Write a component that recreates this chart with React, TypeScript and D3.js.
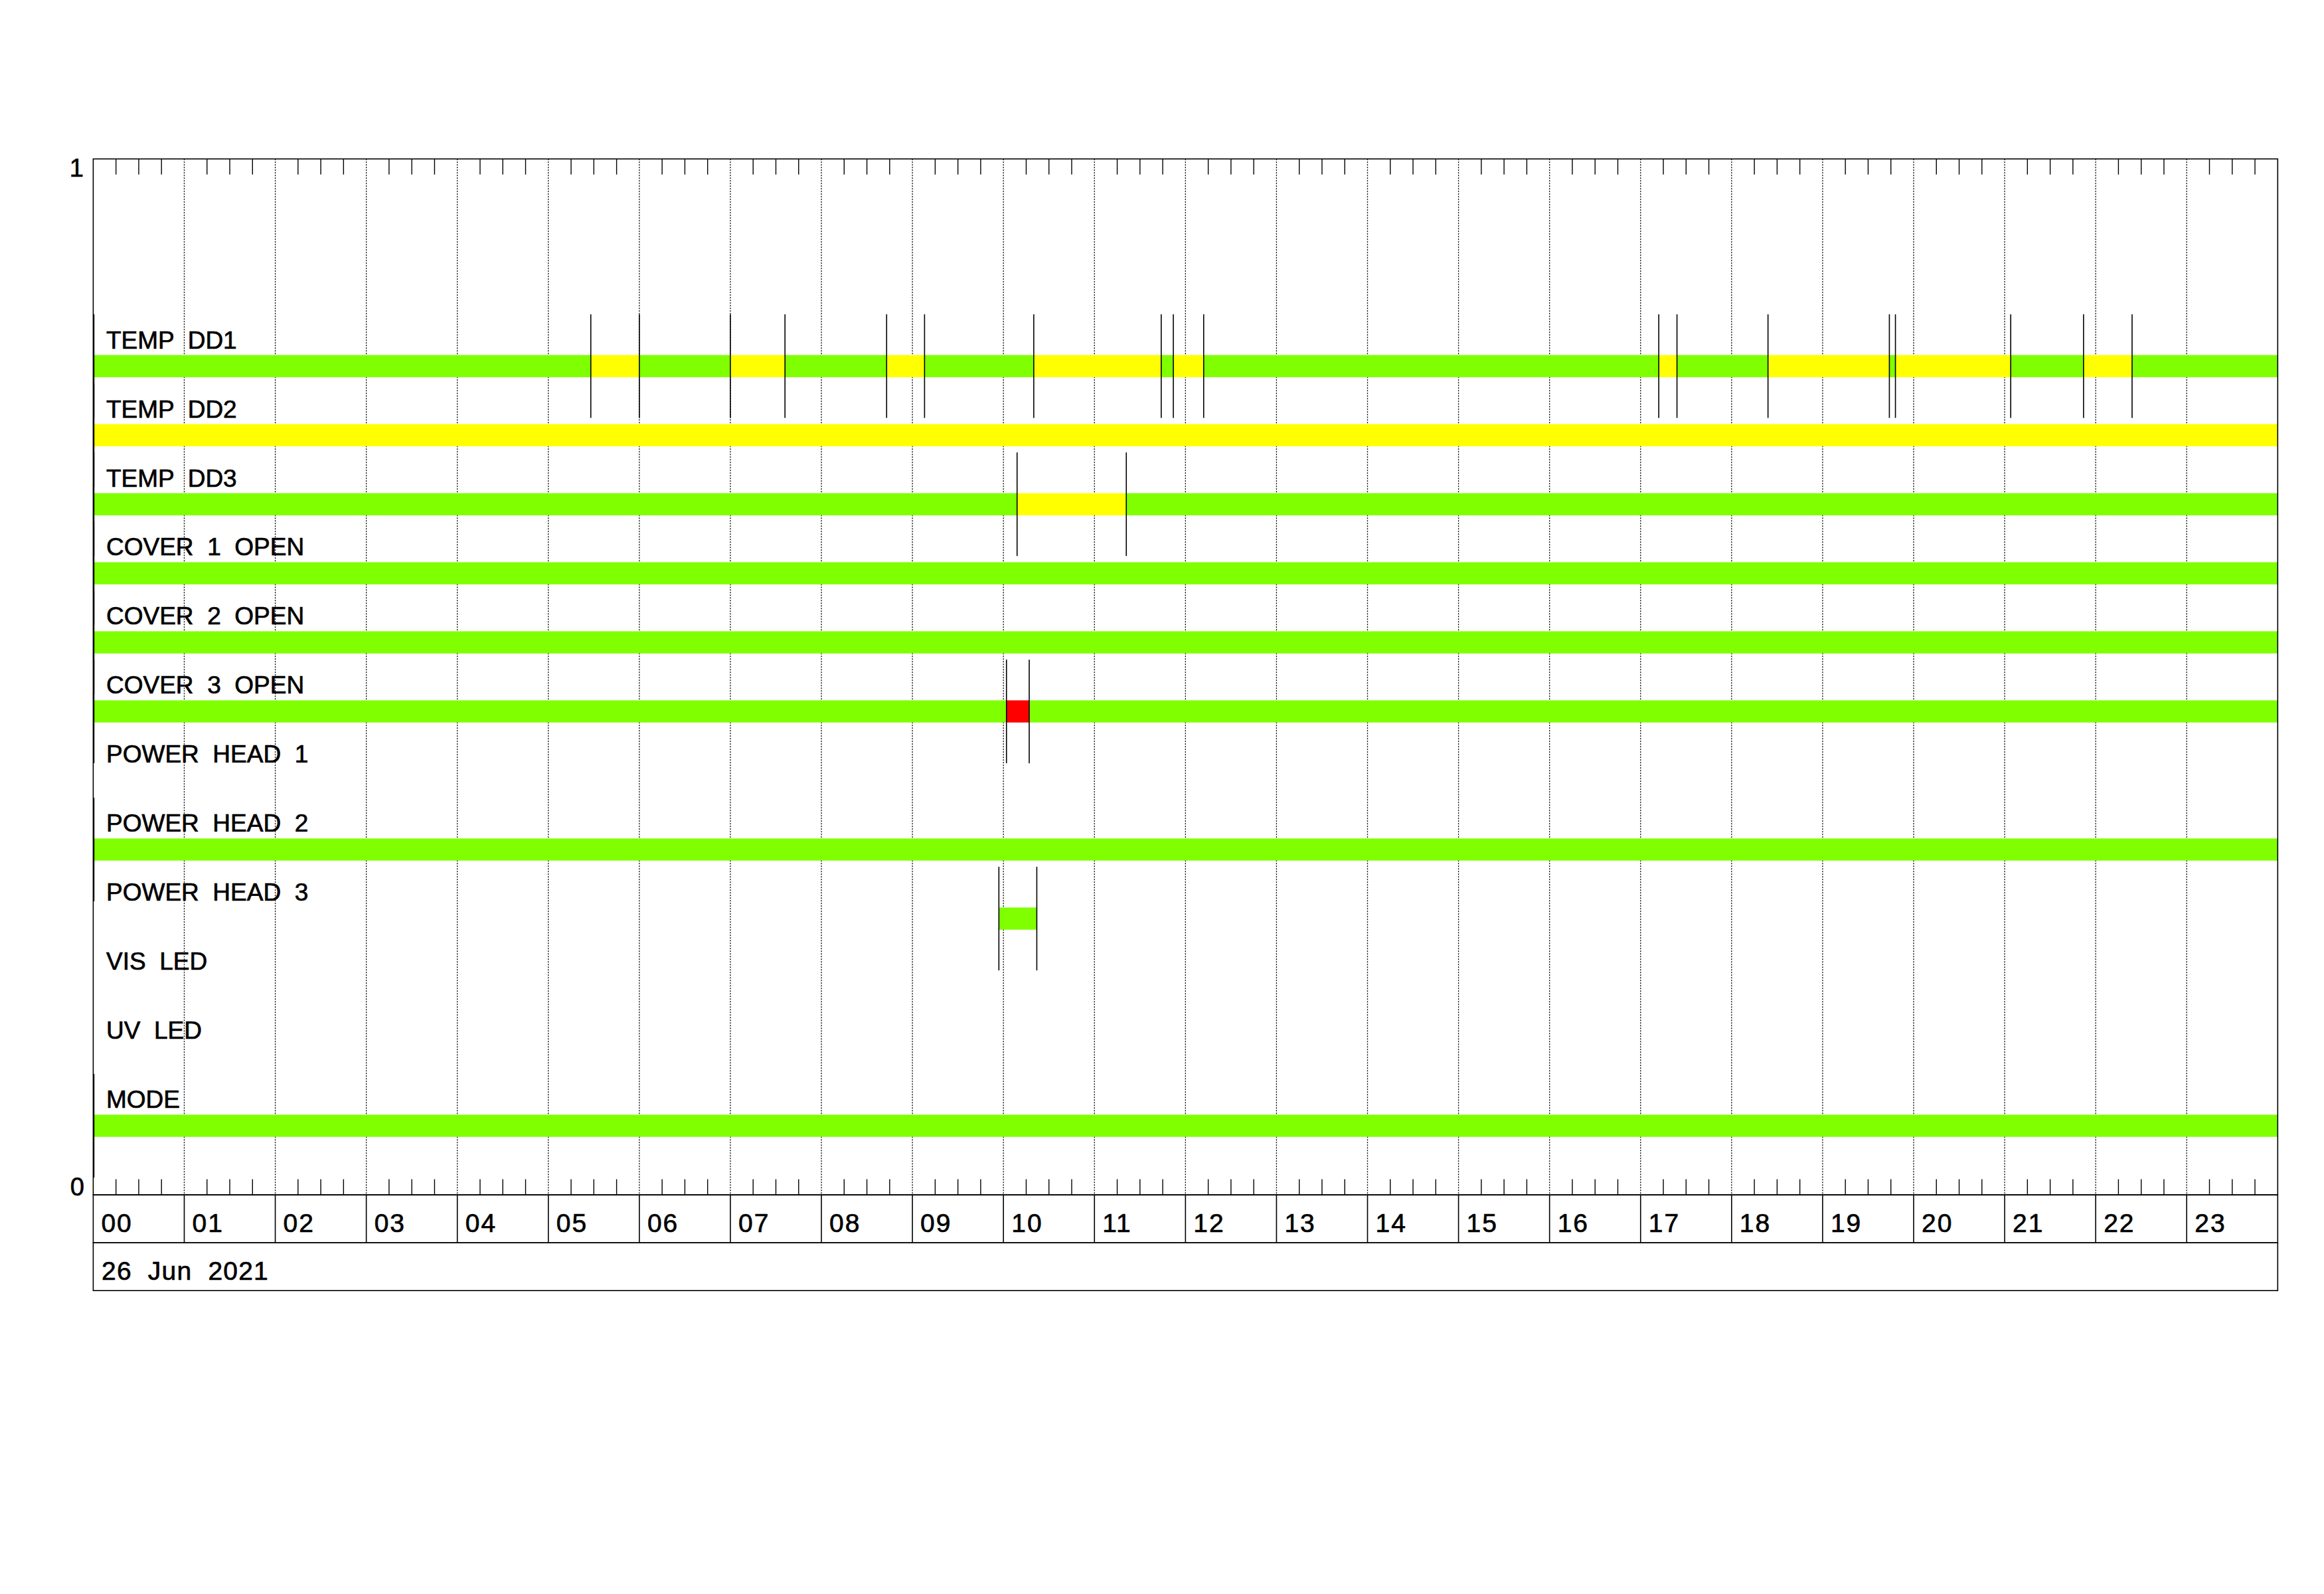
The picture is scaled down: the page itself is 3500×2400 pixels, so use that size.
import React from 'react';
import * as d3 from 'd3';

// ---------- data ----------
const dateLabel = '26 Jun 2021';
const hourLabels = ['00','01','02','03','04','05','06','07','08','09','10','11','12','13','14','15','16','17','18','19','20','21','22','23'];
const rowLabels = [
  'TEMP  DD1', 'TEMP  DD2', 'TEMP  DD3',
  'COVER  1  OPEN', 'COVER  2  OPEN', 'COVER  3  OPEN',
  'POWER  HEAD  1', 'POWER  HEAD  2', 'POWER  HEAD  3',
  'VIS  LED', 'UV  LED', 'MODE',
];
// segments: [start, end, state]  G = ok (green), Y = warning (yellow), R = alarm (red)
const tempDD1 = [
  ['00:00','05:28','G'],['05:28','06:00','Y'],['06:00','07:00','G'],['07:00','07:36','Y'],
  ['07:36','08:43','G'],['08:43','09:08','Y'],['09:08','10:20','G'],['10:20','11:44','Y'],
  ['11:44','11:52','G'],['11:52','12:12','Y'],['12:12','17:12','G'],['17:12','17:24','Y'],
  ['17:24','18:24','G'],['18:24','19:44','Y'],['19:44','19:48','G'],['19:48','21:04','Y'],
  ['21:04','21:52','G'],['21:52','22:24','Y'],['22:24','24:00','G'],
];
const tempDD2 = [['00:00','24:00','Y']];
const tempDD3 = [['00:00','10:09','G'],['10:09','11:21','Y'],['11:21','24:00','G']];
const cover1 = [['00:00','24:00','G']];
const cover2 = [['00:00','24:00','G']];
const cover3 = [['00:00','10:02','G'],['10:02','10:17','R'],['10:17','24:00','G']];
const powerHead1: string[][] = [];
const powerHead2 = [['00:00','24:00','G']];
const powerHead3 = [['09:57','10:22','G']];
const visLed: string[][] = [];
const uvLed: string[][] = [];
const mode = [['00:00','24:00','G']];
const rowSegments = [tempDD1, tempDD2, tempDD3, cover1, cover2, cover3, powerHead1, powerHead2, powerHead3, visLed, uvLed, mode];
const stateColors: Record<string, string> = { G: '#7FFF00', Y: '#FFFF00', R: '#FF0000' };

// ---------- helpers ----------
const toDate = (s: string) => {
  const [h, m] = s.split(':').map(Number);
  return new Date(2021, 5, 26, h, m);
};

export default function App() {
  const W = 3500, H = 2400;
  const left = 140.4, right = 3430.3, top = 239.3, bottom = 1799;
  const hourRowBottom = 1871.2, dateRowBottom = 1943.2;
  const t0 = new Date(2021, 5, 26, 0, 0);
  const t1 = new Date(2021, 5, 27, 0, 0);
  const x = d3.scaleTime().domain([t0, t1]).range([left, right]);
  const y = d3.scaleLinear().domain([0, 1]).range([bottom, top]);
  const rowCenter = (i: number) => 0.8 - i / 15;
  const barHalf = 0.0107;
  const lineHalf = 0.05;

  const hours = d3.timeHour.every(1)!.range(t0, t1);
  const minor = d3.timeMinute.every(15)!.range(t0, t1).filter(d => d.getMinutes() !== 0);

  const font = '"Liberation Sans", Arial, Helvetica, sans-serif';
  const txtStroke = { stroke: '#000', strokeWidth: 0.7 };

  return (
    <svg width={W} height={H} viewBox={`0 0 ${W} ${H}`}
      style={{ position: 'absolute', left: 0, top: 0, background: '#fff' }}>
      <rect x={0} y={0} width={W} height={H} fill="#fff" />
      {/* hour gridlines */}
      {hours.slice(1).map((d, i) => (
        <line key={'g' + i} x1={x(d)} x2={x(d)} y1={top} y2={bottom}
          stroke="#000" strokeWidth={1.3} strokeDasharray="2,2" />
      ))}
      {/* minor ticks */}
      {minor.map((d, i) => (
        <g key={'m' + i}>
          <line x1={x(d)} x2={x(d)} y1={top} y2={top + 23.5} stroke="#000" strokeWidth={1.4} />
          <line x1={x(d)} x2={x(d)} y1={bottom} y2={bottom - 23.5} stroke="#000" strokeWidth={1.4} />
        </g>
      ))}
      {/* bars */}
      {rowSegments.map((segs, i) => (
        <g key={'r' + i}>
          {segs.map((s, j) => (
            <rect key={j} x={x(toDate(s[0]))} y={y(rowCenter(i) + barHalf)}
              width={x(toDate(s[1])) - x(toDate(s[0]))}
              height={y(rowCenter(i) - barHalf) - y(rowCenter(i) + barHalf)}
              fill={stateColors[s[2]]} />
          ))}
        </g>
      ))}
      {/* transition lines */}
      {rowSegments.map((segs, i) => {
        const ts = Array.from(new Set(segs.flatMap(s => [s[0], s[1]]))).filter(t => t !== '24:00');
        return (
          <g key={'t' + i}>
            {ts.map((t, j) => (
              <line key={j} x1={x(toDate(t)) + (t === '00:00' ? 1 : 0)} x2={x(toDate(t)) + (t === '00:00' ? 1 : 0)}
                y1={y(rowCenter(i) + lineHalf)} y2={y(rowCenter(i) - lineHalf)}
                stroke="#000" strokeWidth={1.6} />
            ))}
          </g>
        );
      })}
      {/* row labels */}
      {rowLabels.map((l, i) => (
        <text key={'l' + i} x={160} y={y(rowCenter(i) + barHalf) - 10}
          fontFamily={font} fontSize={37} fill="#000" {...txtStroke} style={{ whiteSpace: 'pre' }}>{l}</text>
      ))}
      {/* frame */}
      <rect x={left} y={top} width={right - left} height={bottom - top} fill="none" stroke="#000" strokeWidth={1.6} />
      <rect x={left} y={bottom} width={right - left} height={hourRowBottom - bottom} fill="none" stroke="#000" strokeWidth={1.6} />
      <rect x={left} y={hourRowBottom} width={right - left} height={dateRowBottom - hourRowBottom} fill="none" stroke="#000" strokeWidth={1.6} />
      {/* hour cells */}
      {hours.slice(1).map((d, i) => (
        <line key={'hc' + i} x1={x(d)} x2={x(d)} y1={bottom} y2={hourRowBottom} stroke="#000" strokeWidth={1.6} />
      ))}
      {hours.map((d, i) => (
        <text key={'hl' + i} x={x(d) + 12} y={1854.5} fontFamily={font} fontSize={39}
          letterSpacing={2} fill="#000" {...txtStroke}>{hourLabels[i]}</text>
      ))}
      <text x={153} y={1926.8} fontFamily={font} fontSize={39} letterSpacing={1.2} fill="#000" {...txtStroke}
        style={{ whiteSpace: 'pre' }}>{dateLabel.replace(/ /g, '  ')}</text>
      {/* y labels */}
      <text x={126} y={y(1) + 27} textAnchor="end" fontFamily={font} fontSize={38} fill="#000" {...txtStroke}>1</text>
      <text x={127} y={y(0) + 1} textAnchor="end" fontFamily={font} fontSize={38} fill="#000" {...txtStroke}>0</text>
    </svg>
  );
}
